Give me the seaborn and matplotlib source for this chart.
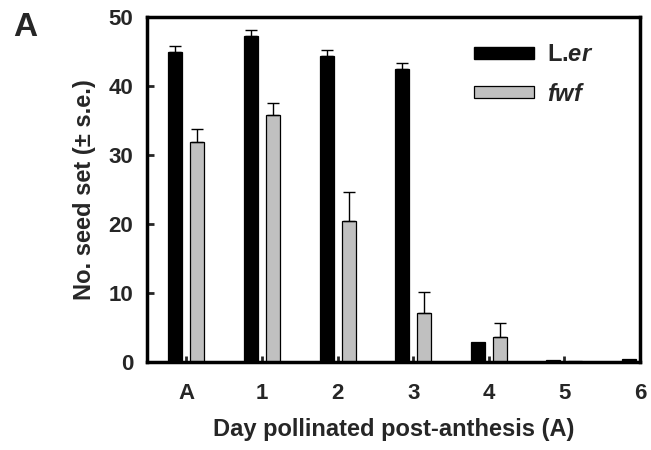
import pandas as pd
import matplotlib.pyplot as plt
import seaborn as sns
import numpy as np
from matplotlib.patches import Patch

days = ['A', '1', '2', '3', '4', '5', '6']
ler_mean = [45.0, 47.3, 44.4, 42.4, 2.9, 0.3, 0.45]
ler_se = [0.8, 0.9, 0.8, 0.9, 0.0, 0.0, 0.0]
fwf_mean = [31.9, 35.8, 20.4, 7.1, 3.6, 0.1, 0.0]
fwf_se = [1.9, 1.8, 4.2, 3.0, 2.0, 0.0, 0.0]

df = pd.DataFrame({
    'day': days * 2,
    'seeds': ler_mean + fwf_mean,
    'line': ['L.er'] * len(days) + ['fwf'] * len(days),
})
se_lookup = {0: ler_se, 1: fwf_se}

sns.set_style('ticks')
plt.rcParams['font.family'] = ['Liberation Sans', 'DejaVu Sans']
plt.rcParams['font.weight'] = 'bold'
plt.rcParams['mathtext.fontset'] = 'custom'
plt.rcParams['mathtext.it'] = 'Liberation Sans:italic:bold'
plt.rcParams['mathtext.rm'] = 'Liberation Sans:bold'

fig = plt.figure(figsize=(6.51, 4.5), dpi=100)
ax = fig.add_axes([0.226, 0.196, 0.757, 0.766])

sns.barplot(data=df, x='day', y='seeds', hue='line', order=days,
            palette=['black', '#c0c0c0'], width=0.584, gap=0.366,
            edgecolor='black', linewidth=0.9, legend=False, ax=ax)

# upward-only error bars
for p in ax.patches:
    xc = p.get_x() + p.get_width() / 2
    idx = int(round(xc))
    grp = 0 if xc < idx else 1
    err = se_lookup[grp][idx]
    if err > 0:
        ax.errorbar(xc, p.get_height(), yerr=[[0], [err]], fmt='none',
                    ecolor='black', elinewidth=1, capsize=4, capthick=1)

ax.set_xlim(-0.52, 6.0)
ax.set_ylim(0, 50)
ax.set_yticks(range(0, 51, 10))
ax.tick_params(axis='both', direction='in', labelsize=16, width=2)
ax.tick_params(axis='x', length=4, pad=15)
ax.tick_params(axis='y', length=5, pad=10)
for s in ax.spines.values():
    s.set_visible(True)
    s.set_linewidth(2.5)
    s.set_color('black')

ax.set_xlabel('Day pollinated post-anthesis (A)', fontsize=17, fontweight='bold', labelpad=10)
ax.set_ylabel('No. seed set (± s.e.)', fontsize=17, fontweight='bold', labelpad=9)

handles = [Patch(facecolor='black', edgecolor='black'),
           Patch(facecolor='#c0c0c0', edgecolor='black', linewidth=0.9)]
ax.legend(handles, ['L.$\\mathit{er}$', '$\\mathit{fwf}$'], loc='upper left',
          bbox_to_anchor=(0.639, 0.959), frameon=False, fontsize=17, borderpad=0,
          handlelength=2.55, handleheight=0.4, labelspacing=0.7, handletextpad=0.55)

fig.text(0.02, 0.92, 'A', fontsize=24, fontweight='bold')

plt.savefig('out.png', dpi=100)
